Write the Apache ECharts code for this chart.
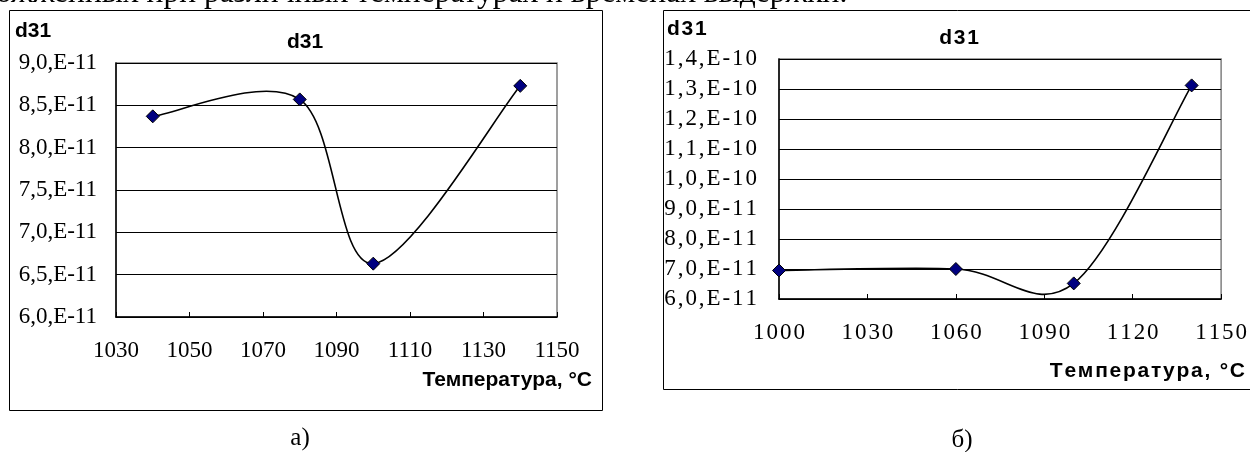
<!DOCTYPE html>
<html>
<head>
<meta charset="utf-8">
<script src="https://cdn.jsdelivr.net/npm/echarts@6/dist/echarts.min.js"></script>
<style>
  html, body { margin: 0; padding: 0; background: #fff; }
  #chart { width: 1250px; height: 452px; }
</style>
</head>
<body>
<div id="chart"></div>
<script>
// Annealing temperature, °C
const tempsA = [1040, 1080, 1100, 1140];
const tempsB = [1000, 1060, 1100, 1140];
// Piezo modulus d31, in units of 1e-11
const d31A = [8.37, 8.57, 6.63, 8.73];
const d31B = [6.95, 7.00, 6.52, 13.12];
// Axis ranges: [min, max, step]
const xRangeA = [1030, 1150, 20];
const yRangeA = [6, 9, 0.5];
const xRangeB = [1000, 1150, 30];
const yRangeB = [6, 14, 1];
// Texts
const seriesName = 'd31';
const xAxisTitle = 'Температура, °C';
const captionA = 'а)';
const captionB = 'б)';
const headerLine = 'ожженных при различных температурах и временах выдержки.';

const UNIT_EXP = -11;
const SERIF = '"Liberation Serif", "Times New Roman", serif';
const SANS = '"Liberation Sans", Arial, sans-serif';
const HAIR = '\u200A';

// 8.5 -> "8,5,E-11", 13 -> "1,3,E-10"
function sciLabel(v) {
  let m = v, e = UNIT_EXP;
  while (Math.round(m * 10) / 10 >= 10) { m /= 10; e += 1; }
  return m.toFixed(1).replace('.', ',') + ',E' + e;
}
function spaced(s) { return s.split('').join(HAIR); }
function pairs(xs, ys) { return xs.map((x, i) => [x, ys[i]]); }

const chart = echarts.init(document.getElementById('chart'), null, { renderer: 'canvas' });

function xAxisOf(gridIndex, range, wide) {
  return {
    type: 'value', gridIndex,
    min: range[0], max: range[1], interval: range[2],
    axisLine: { show: true, onZero: false, lineStyle: { color: '#000', width: 1.5 } },
    axisTick: { show: true, inside: true, length: 5, lineStyle: { color: '#000', width: 1 } },
    splitLine: { show: false },
    axisLabel: {
      margin: 22, color: '#000', fontFamily: SERIF, fontSize: 23,
      formatter: v => wide ? spaced(String(v)) : String(v)
    }
  };
}
function yAxisOf(gridIndex, range, wide) {
  return {
    type: 'value', gridIndex,
    min: range[0], max: range[1], interval: range[2],
    axisLine: { show: true, lineStyle: { color: '#000', width: 1.5 } },
    axisTick: { show: false },
    splitLine: { show: true, lineStyle: { color: '#000', width: 1 } },
    axisLabel: {
      margin: wide ? 22 : 19, color: '#000', fontFamily: SERIF, fontSize: 23,
      formatter: v => wide ? spaced(sciLabel(v)) : sciLabel(v)
    }
  };
}

// Smoothed connecting curve: cubic Bezier segments whose control points
// follow the neighbouring points (tension 1/6, ends duplicated).
function smoothCurveOf(idx, xs, ys) {
  const n = xs.length;
  return {
    type: 'custom', name: seriesName,
    xAxisIndex: idx, yAxisIndex: idx,
    data: pairs(xs, ys),
    encode: { x: 0, y: 1 },
    silent: true, z: 4,
    renderItem(params, api) {
      const i = params.dataIndex;
      if (i >= n - 1) return null;
      const at = k => {
        const j = Math.max(0, Math.min(n - 1, k));
        return api.coord([xs[j], ys[j]]);
      };
      const p0 = at(i - 1), p1 = at(i), p2 = at(i + 1), p3 = at(i + 2);
      return {
        type: 'bezierCurve',
        shape: {
          x1: p1[0], y1: p1[1], x2: p2[0], y2: p2[1],
          cpx1: p1[0] + (p2[0] - p0[0]) / 6, cpy1: p1[1] + (p2[1] - p0[1]) / 6,
          cpx2: p2[0] - (p3[0] - p1[0]) / 6, cpy2: p2[1] - (p3[1] - p1[1]) / 6
        },
        style: { fill: 'none', stroke: '#000', lineWidth: 1.6 }
      };
    }
  };
}
function markersOf(idx, xs, ys) {
  return {
    type: 'scatter', name: seriesName,
    xAxisIndex: idx, yAxisIndex: idx,
    data: pairs(xs, ys),
    symbol: 'diamond', symbolSize: 13,
    itemStyle: { color: '#000080', borderColor: '#000', borderWidth: 1, opacity: 1 },
    z: 6
  };
}

function txt(x, y, text, font, align, vAlign) {
  return {
    type: 'text', x, y, z: 100,
    style: { text, font, fill: '#000', align: align || 'left', verticalAlign: vAlign || 'middle' }
  };
}

chart.setOption({
  animation: false,
  backgroundColor: '#fff',
  grid: [
    { left: 116, top: 63, width: 441, height: 254, show: true, backgroundColor: '#fff',
      borderColor: '#808080', borderWidth: 1.5, containLabel: false },
    { left: 779, top: 59, width: 443, height: 240, show: true, backgroundColor: '#fff',
      borderColor: '#808080', borderWidth: 1.5, containLabel: false }
  ],
  xAxis: [xAxisOf(0, xRangeA, false), xAxisOf(1, xRangeB, true)],
  yAxis: [yAxisOf(0, yRangeA, false), yAxisOf(1, yRangeB, true)],
  series: [
    smoothCurveOf(0, tempsA, d31A), markersOf(0, tempsA, d31A),
    smoothCurveOf(1, tempsB, d31B), markersOf(1, tempsB, d31B)
  ],
  graphic: [
    // frames around both charts
    { type: 'rect', z: -10, shape: { x: 9.5, y: 10.5, width: 593, height: 400 },
      style: { fill: '#fff', stroke: '#000', lineWidth: 1 } },
    { type: 'rect', z: -10, shape: { x: 663.5, y: 10.5, width: 620, height: 379 },
      style: { fill: '#fff', stroke: '#000', lineWidth: 1 } },
    // running text above the figures
    txt(-4, 10, headerLine, '31.5px ' + SERIF, 'left', 'bottom'),
    // chart (a) texts
    txt(15, 31, seriesName, 'bold 21px ' + SANS),
    txt(305, 42, seriesName, 'bold 21px ' + SANS, 'center'),
    txt(592, 380, xAxisTitle, 'bold 21px ' + SANS, 'right'),
    // chart (b) texts
    txt(667, 29, spaced(seriesName), 'bold 21px ' + SANS),
    txt(959, 38, spaced(seriesName), 'bold 21px ' + SANS, 'center'),
    txt(1245, 371, spaced(xAxisTitle), 'bold 21px ' + SANS, 'right'),
    // captions
    txt(300, 438, captionA, '25px ' + SERIF, 'center'),
    txt(962, 440, captionB, '25px ' + SERIF, 'center')
  ]
});
</script>
</body>
</html>
